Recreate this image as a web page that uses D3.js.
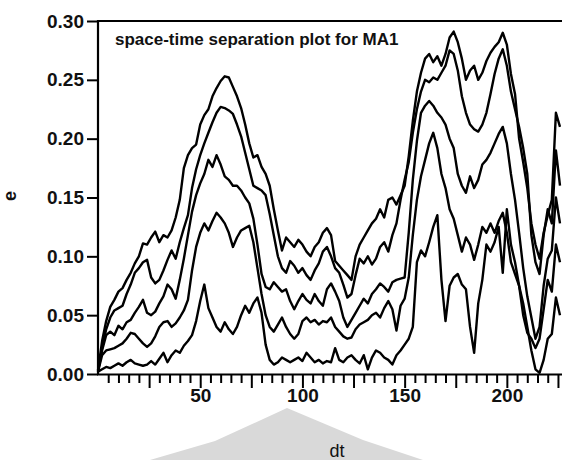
<!DOCTYPE html>
<html>
<head>
<meta charset="utf-8">
<script src="https://cdn.jsdelivr.net/npm/d3@7"></script>
<style>
  html, body { margin: 0; padding: 0; background: #fff; }
  svg { display: block; }
  text { font-family: "Liberation Sans", Arial, sans-serif; fill: #111; }
</style>
</head>
<body>
<svg id="chart" width="562" height="460"></svg>
<script>
// Space-time separation plot: contour curves of separation e against time lag dt.
const dt = d3.range(0, 228, 2);

const curve1 = [0.003,0.028,0.045,0.057,0.063,0.070,0.073,0.080,0.086,0.094,0.100,0.111,0.110,0.116,0.121,0.112,0.118,0.116,0.122,0.133,
  0.148,0.175,0.186,0.192,0.195,0.212,0.220,0.225,0.236,0.243,0.249,0.253,0.252,0.244,0.236,0.226,0.212,0.196,0.184,0.186,
  0.176,0.170,0.160,0.140,0.122,0.105,0.116,0.112,0.108,0.114,0.110,0.104,0.100,0.108,0.112,0.120,0.124,0.118,0.096,0.092,
  0.088,0.084,0.080,0.100,0.110,0.116,0.122,0.128,0.132,0.140,0.133,0.148,0.150,0.144,0.152,0.160,0.185,0.215,0.240,0.256,
  0.268,0.272,0.265,0.270,0.262,0.272,0.286,0.291,0.282,0.268,0.250,0.258,0.262,0.250,0.256,0.266,0.273,0.278,0.282,0.290,
  0.280,0.255,0.238,0.200,0.180,0.158,0.128,0.110,0.098,0.120,0.135,0.148,0.222,0.210];

const curve2 = [0.003,0.022,0.038,0.048,0.054,0.056,0.058,0.068,0.076,0.086,0.090,0.095,0.097,0.082,0.077,0.080,0.088,0.097,0.105,0.098,
  0.112,0.124,0.135,0.158,0.174,0.186,0.196,0.205,0.214,0.222,0.227,0.226,0.224,0.221,0.212,0.202,0.188,0.174,0.160,0.158,
  0.156,0.152,0.136,0.118,0.100,0.090,0.086,0.096,0.092,0.086,0.090,0.084,0.080,0.088,0.094,0.104,0.108,0.100,0.090,0.086,
  0.076,0.065,0.068,0.084,0.098,0.094,0.100,0.093,0.098,0.108,0.112,0.104,0.118,0.128,0.148,0.165,0.180,0.205,0.225,0.240,
  0.250,0.248,0.252,0.250,0.256,0.262,0.275,0.272,0.258,0.236,0.222,0.212,0.208,0.206,0.212,0.222,0.238,0.255,0.268,0.276,
  0.262,0.240,0.225,0.210,0.192,0.170,0.118,0.095,0.085,0.118,0.140,0.128,0.190,0.160];

const curve3 = [0.002,0.020,0.033,0.036,0.033,0.041,0.038,0.044,0.046,0.052,0.057,0.063,0.052,0.050,0.053,0.060,0.066,0.076,0.072,0.064,
  0.080,0.098,0.118,0.138,0.152,0.162,0.170,0.182,0.176,0.186,0.178,0.168,0.165,0.160,0.160,0.156,0.150,0.145,0.132,0.110,
  0.085,0.074,0.072,0.078,0.074,0.070,0.072,0.062,0.055,0.062,0.068,0.063,0.060,0.068,0.062,0.058,0.072,0.077,0.070,0.062,
  0.048,0.040,0.046,0.052,0.058,0.064,0.060,0.068,0.072,0.077,0.074,0.070,0.078,0.080,0.081,0.082,0.120,0.165,0.198,0.222,
  0.228,0.232,0.228,0.222,0.218,0.212,0.200,0.192,0.170,0.160,0.154,0.168,0.158,0.165,0.178,0.182,0.188,0.196,0.204,0.210,
  0.196,0.170,0.148,0.120,0.090,0.066,0.048,0.030,0.040,0.075,0.098,0.105,0.150,0.128];

const curve4 = [0.002,0.016,0.020,0.021,0.022,0.024,0.026,0.030,0.035,0.034,0.030,0.026,0.023,0.026,0.032,0.040,0.044,0.045,0.040,0.043,
  0.048,0.054,0.063,0.088,0.108,0.120,0.128,0.122,0.130,0.137,0.133,0.128,0.120,0.108,0.116,0.122,0.124,0.126,0.112,0.090,
  0.068,0.050,0.040,0.036,0.042,0.048,0.040,0.034,0.030,0.034,0.045,0.048,0.044,0.046,0.042,0.045,0.044,0.048,0.040,0.036,
  0.032,0.030,0.031,0.038,0.042,0.044,0.046,0.050,0.052,0.048,0.056,0.062,0.055,0.037,0.058,0.064,0.082,0.118,0.148,0.168,
  0.182,0.196,0.205,0.192,0.170,0.158,0.140,0.132,0.118,0.104,0.116,0.110,0.097,0.110,0.125,0.120,0.128,0.120,0.130,0.137,
  0.120,0.095,0.085,0.075,0.050,0.035,0.030,0.022,0.030,0.055,0.080,0.070,0.110,0.095];

const curve5 = [0.002,0.004,0.006,0.005,0.007,0.009,0.007,0.010,0.012,0.009,0.008,0.007,0.008,0.011,0.008,0.013,0.018,0.010,0.016,0.020,
  0.018,0.024,0.028,0.033,0.045,0.062,0.076,0.056,0.048,0.040,0.036,0.044,0.038,0.034,0.040,0.050,0.058,0.052,0.060,0.065,
  0.052,0.025,0.012,0.008,0.010,0.014,0.012,0.010,0.012,0.014,0.011,0.018,0.014,0.010,0.012,0.009,0.011,0.010,0.022,0.012,
  0.010,0.014,0.016,0.012,0.009,0.016,0.004,0.014,0.020,0.018,0.014,0.012,0.008,0.016,0.020,0.025,0.030,0.040,0.095,0.105,
  0.100,0.112,0.125,0.135,0.080,0.045,0.075,0.082,0.085,0.076,0.072,0.040,0.018,0.060,0.080,0.110,0.104,0.112,0.125,0.086,
  0.140,0.110,0.095,0.075,0.060,0.040,0.020,0.004,0.001,0.012,0.030,0.034,0.065,0.050];

const curves = [curve1, curve2, curve3, curve4, curve5];

const yTicks = [0, 0.05, 0.10, 0.15, 0.20, 0.25, 0.30];
const xMinorTicks = d3.range(5, 230, 5);
const xLabelTicks = [50, 100, 150, 200];
const titleText = "space-time separation plot for MA1";
const xTitle = "dt";
const yTitle = "e";

const svg = d3.select("#chart");

const x = d3.scaleLinear().domain([0, 226]).range([98, 560]);
const y = d3.scaleLinear().domain([0, 0.30]).range([374, 21]);

// soft grey backdrop shape under the axis title
svg.append("path")
  .attr("d", "M150,460 L215,441 L287,408 L363,440 L423,460 Z")
  .attr("fill", "#d9d9d9");

// data curves
const line = d3.line()
  .x((d, i) => x(dt[i]))
  .y(d => y(d));

svg.append("g")
  .selectAll("path")
  .data(curves)
  .join("path")
  .attr("d", line)
  .attr("fill", "none")
  .attr("stroke", "#000")
  .attr("stroke-width", 2.4)
  .attr("stroke-linejoin", "round");

// frame lines: left, top, bottom
svg.append("line").attr("x1", 98).attr("x2", 98).attr("y1", 20).attr("y2", 375)
  .attr("stroke", "#000").attr("stroke-width", 2.2);
svg.append("line").attr("x1", 97).attr("x2", 562).attr("y1", 21).attr("y2", 21)
  .attr("stroke", "#000").attr("stroke-width", 2);
svg.append("line").attr("x1", 97).attr("x2", 562).attr("y1", 374.5).attr("y2", 374.5)
  .attr("stroke", "#000").attr("stroke-width", 2.2);

// y axis
const yAxis = d3.axisLeft(y)
  .tickValues(yTicks)
  .tickSize(11)
  .tickPadding(3)
  .tickFormat(d3.format(".2f"));
const gy = svg.append("g").attr("transform", "translate(98,0)").call(yAxis);
gy.select(".domain").remove();
gy.selectAll(".tick line").attr("stroke", "#000").attr("stroke-width", 2);
gy.selectAll(".tick text")
  .attr("font-family", "Liberation Sans, Arial, sans-serif")
  .attr("font-size", 19).attr("font-weight", "bold").attr("fill", "#111");

// x axis
const xAxis = d3.axisBottom(x)
  .tickValues(xMinorTicks)
  .tickSize(8)
  .tickPadding(6)
  .tickFormat(d => xLabelTicks.includes(d) ? d : "");
const gx = svg.append("g").attr("transform", "translate(0,375)").call(xAxis);
gx.select(".domain").remove();
gx.selectAll(".tick line")
  .attr("stroke", "#000").attr("stroke-width", 2)
  .attr("y2", d => d % 25 === 0 ? 13 : 8);
gx.selectAll(".tick text")
  .attr("y", 14)
  .attr("font-family", "Liberation Sans, Arial, sans-serif")
  .attr("font-size", 19).attr("font-weight", "bold").attr("fill", "#111");

// title inside the plot
svg.append("text")
  .attr("x", 115).attr("y", 45)
  .attr("font-size", 17).attr("font-weight", "bold")
  .text(titleText);

// axis titles
svg.append("text")
  .attr("x", 337).attr("y", 457)
  .attr("text-anchor", "middle")
  .attr("font-size", 18)
  .text(xTitle);

svg.append("text")
  .attr("transform", "translate(16,196) rotate(-90)")
  .attr("text-anchor", "middle")
  .attr("font-size", 18).attr("font-weight", "bold")
  .text(yTitle);
</script>
</body>
</html>
